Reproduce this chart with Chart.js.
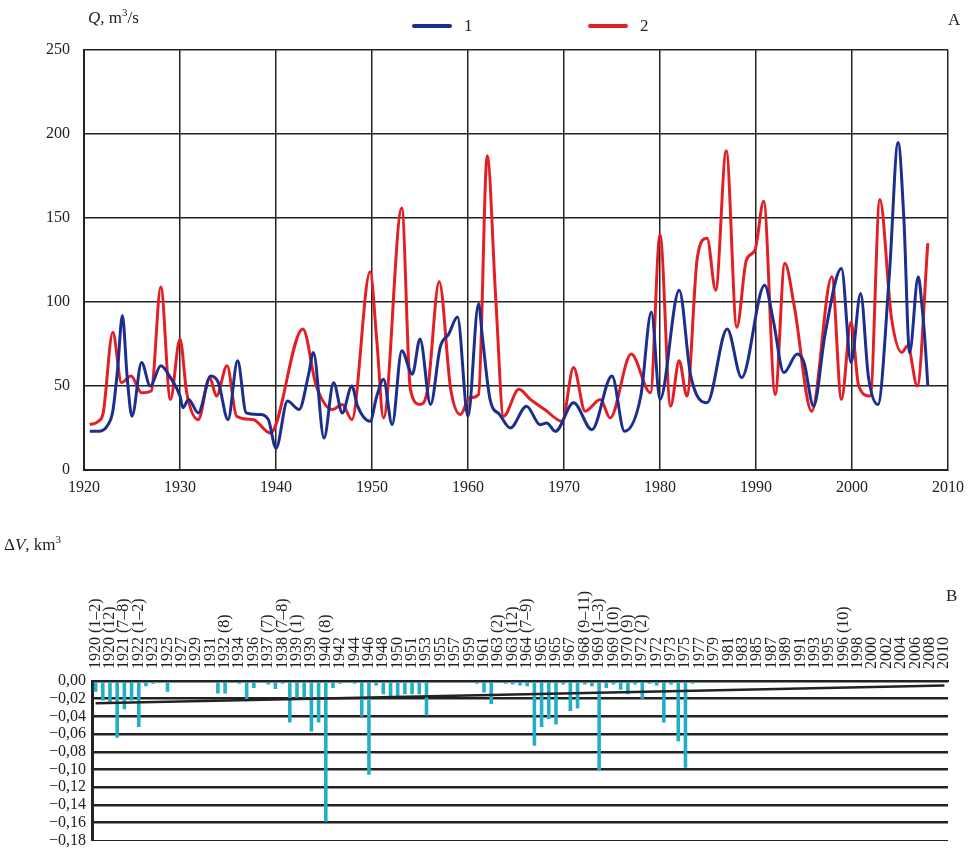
<!DOCTYPE html>
<html>
<head>
<meta charset="utf-8">
<script src="https://cdn.jsdelivr.net/npm/chart.js@4.4.0/dist/chart.umd.min.js"></script>
<style>
  body { margin: 0; background: #fff; font-family: 'Liberation Serif', 'Times New Roman', serif; color: #222; }
  #wrap { position: relative; width: 973px; height: 856px; overflow: hidden; }
  canvas { position: absolute; left: 0; }
  #topChart { top: 0; }
  #bottomChart { top: 540px; }
  .txt { position: absolute; font-size: 17px; white-space: nowrap; }
  .txt sup { font-size: 11px; }
  .legend { position: absolute; top: 16px; font-size: 17px; display: flex; align-items: center; }
  .legend span.ln { display: inline-block; width: 40px; height: 4px; border-radius: 2px; margin-right: 12px; }
</style>
</head>
<body>
<div id="wrap">
  <canvas id="topChart" width="973" height="505"></canvas>
  <canvas id="bottomChart" width="973" height="316"></canvas>
  <div class="txt" style="left:88px; top:6px;"><i>Q</i>, m<sup>3</sup>/s</div>
  <div class="legend" style="left:412px;"><span class="ln" style="background:#1c2f8e"></span>1</div>
  <div class="legend" style="left:588px;"><span class="ln" style="background:#e31e24"></span>2</div>
  <div class="txt" style="left:948px; top:10px;">A</div>
  <div class="txt" style="left:946px; top:586px;">B</div>
  <div class="txt" style="left:4px; top:533px;">&Delta;<i>V</i>, km<sup>3</sup></div>
</div>
<script>
// ---------- panel A: discharge, m3/s ----------
const years1 = [1920.6, 1921.5, 1922.5, 1923.0, 1923.5, 1924.0, 1924.5, 1925.0, 1926.0, 1926.9,
  1928.0, 1929.0, 1930.0, 1930.3, 1930.9, 1931.9, 1933.2, 1934.0, 1935.0, 1936.0,
  1936.9, 1938.3, 1939.2, 1940.0, 1941.2, 1942.4, 1943.4, 1943.9, 1945.0, 1946.0,
  1946.9, 1947.9, 1948.5, 1949.8, 1950.5, 1951.2, 1952.1, 1953.1, 1954.2, 1955.0,
  1956.1, 1957.1, 1958.0, 1958.9, 1960.0, 1961.1, 1961.5, 1962.3, 1963.3, 1964.4,
  1966.1, 1967.5, 1968.2, 1969.1, 1971.0, 1972.9, 1975.0, 1976.3, 1978.0, 1979.1,
  1980.0, 1982.0, 1983.2, 1984.9, 1987.0, 1988.5, 1990.9, 1991.8, 1992.9, 1994.3,
  1995.0, 1996.0, 1997.2, 1998.9, 1999.9, 2000.9, 2001.7, 2002.7, 2003.9, 2004.8,
  2005.4, 2006.0, 2006.9, 2007.3, 2007.6, 2007.9];
const flow1 = [23, 23, 27, 35, 60, 92, 55, 32, 64, 50,
  62, 55, 44, 37, 42, 34, 56, 52, 30, 65,
  34, 33, 30, 13, 41, 36, 57, 70, 19, 52,
  34, 50, 38, 29, 44, 54, 27, 71, 57, 78,
  39, 73, 81, 91, 32, 99, 79, 42, 33, 25,
  38, 27, 28, 23, 40, 24, 56, 23, 44, 94,
  42, 107, 56, 40, 84, 55, 110, 89, 58, 69,
  64, 38, 81, 120, 64, 105, 56, 39, 117, 195,
  150, 70, 115, 97, 77, 50];

const years2 = [1920.6, 1921.5, 1922.0, 1923.0, 1923.9, 1924.9, 1926.0, 1927.0, 1928.0, 1929.0,
  1930.0, 1930.7, 1931.9, 1933.1, 1933.8, 1934.9, 1935.9, 1937.6, 1939.4, 1942.8,
  1944.2, 1945.9, 1946.9, 1947.9, 1949.8, 1950.5, 1951.2, 1953.1, 1954.0, 1955.0,
  1955.8, 1957.0, 1958.2, 1959.2, 1960.2, 1961.1, 1962.0, 1962.9, 1963.7, 1965.3,
  1966.5, 1968.0, 1969.8, 1971.0, 1972.2, 1973.8, 1974.8, 1977.0, 1979.0, 1980.0,
  1981.1, 1982.0, 1982.8, 1983.9, 1984.9, 1985.8, 1986.9, 1988.0, 1989.0, 1989.9,
  1990.8, 1992.0, 1993.0, 1994.0, 1995.8, 1997.9, 1998.9, 1999.9, 2000.7, 2001.9,
  2002.9, 2004.1, 2005.2, 2005.8, 2006.8, 2007.9];
const flow2 = [27, 29, 34, 82, 52, 56, 46, 47, 109, 42,
  78, 46, 30, 55, 44, 62, 32, 30, 22, 84,
  50, 36, 39, 30, 118, 77, 31, 156, 48, 39,
  48, 112, 48, 33, 43, 45, 187, 101, 32, 48,
  42, 36, 29, 61, 35, 42, 31, 69, 46, 140,
  38, 65, 44, 127, 138, 107, 190, 85, 125, 131,
  160, 45, 123, 97, 35, 115, 42, 88, 50, 44,
  161, 91, 70, 74, 50, 135];

const seriesNames = ['1', '2'];

// ---------- panel B: volume change, km3 ----------
const periodLabels = ['1920 (1–2)', '1920 (12)', '1921 (7–8)', '1922 (1–2)', '1923', '1925', '1927', '1929', '1931', '1932 (8)',
  '1934', '1936', '1937 (7)', '1938 (7–8)', '1939 (1)', '1939', '1940 (8)', '1942', '1944', '1946',
  '1948', '1950', '1951', '1953', '1955', '1957', '1959', '1961', '1963 (2)', '1963 (12)',
  '1964 (7–9)', '1965', '1965', '1967', '1968 (9–11)', '1969 (1–3)', '1969 (10)', '1970 (9)', '1972 (2)', '1972',
  '1973', '1975', '1977', '1979', '1981', '1983', '1985', '1987', '1989', '1991',
  '1993', '1995', '1996 (10)', '1998', '2000', '2002', '2004', '2006', '2008', '2010'];

const volumeChange = [-0.012, -0.022, -0.025, -0.064, -0.032, -0.022, -0.052, -0.006, -0.003, -0.002,
  -0.012, -0.001, -0.002, -0.001, -0.001, -0.002, -0.001, -0.014, -0.014, -0.002,
  -0.003, -0.023, -0.008, -0.002, -0.004, -0.009, -0.003, -0.047, -0.020, -0.019,
  -0.057, -0.047, -0.159, -0.008, -0.003, -0.002, -0.003, -0.040, -0.106, -0.005,
  -0.015, -0.019, -0.018, -0.015, -0.015, -0.015, -0.039, -0.002, -0.002, -0.001,
  -0.002, -0.001, -0.002, -0.003, -0.013, -0.026, -0.002, -0.003, -0.004, -0.005,
  -0.006, -0.073, -0.052, -0.043, -0.049, -0.004, -0.034, -0.031, -0.004, -0.006,
  -0.101, -0.008, -0.004, -0.010, -0.015, -0.004, -0.020, -0.003, -0.005, -0.047,
  -0.004, -0.068, -0.098, -0.003, -0.001, 0, 0, 0, 0, 0,
  0, 0, 0, 0, 0, 0, 0, 0, 0, 0,
  0, 0, 0, -0.002, -0.002, 0, 0, 0, 0, 0,
  0, 0, 0, 0, 0, 0, 0, 0, 0];

// linear trend, start and end values
const trendEnds = [-0.025, -0.005];

Chart.defaults.font.family = "'Liberation Serif', 'Times New Roman', serif";
Chart.defaults.color = '#222';

// every other category carries a visible label
const categories = volumeChange.map((v, i) => (i % 2 === 0 ? periodLabels[i / 2] || '' : ''));
const trendData = volumeChange.map((v, i) =>
  i === 0 ? trendEnds[0] : i === volumeChange.length - 1 ? trendEnds[1] : null
);

new Chart(document.getElementById('topChart'), {
	type: 'line',
	data: {
		datasets: [
			{
				label: seriesNames[0],
				data: years1.map((x, i) => ({ x, y: flow1[i] })),
				borderColor: '#1c2f8e',
				borderWidth: 3,
				pointRadius: 0,
				cubicInterpolationMode: 'monotone',
			},
			{
				label: seriesNames[1],
				data: years2.map((x, i) => ({ x, y: flow2[i] })),
				borderColor: '#e31e24',
				borderWidth: 3,
				pointRadius: 0,
				cubicInterpolationMode: 'monotone',
			},
		],
	},
	options: {
		responsive: false,
		animation: false,
		devicePixelRatio: 1,
		layout: { padding: { top: 50, right: 25, left: 0, bottom: 0 } },
		scales: {
			x: {
				type: 'linear',
				min: 1920,
				max: 2010,
				afterFit: (s) => { s.height = 35; },
				ticks: { stepSize: 10, font: { size: 16 }, padding: 8, callback: (v) => String(v) },
				grid: { color: '#222', lineWidth: 1.5, tickLength: 0 },
				border: { color: '#222', width: 2 },
			},
			y: {
				min: 0,
				max: 250,
				afterFit: (s) => { s.width = 84; },
				ticks: { stepSize: 50, font: { size: 16 }, padding: 14 },
				grid: { color: '#222', lineWidth: 1.5, tickLength: 0 },
				border: { color: '#222', width: 2 },
			},
		},
		plugins: { legend: { display: false }, tooltip: { enabled: false } },
	},
});

new Chart(document.getElementById('bottomChart'), {
	type: 'bar',
	data: {
		labels: categories,
		datasets: [
			{
				type: 'line',
				data: trendData,
				spanGaps: true,
				borderColor: '#222',
				borderWidth: 2.5,
				pointRadius: 0,
			},
			{
				data: volumeChange,
				backgroundColor: '#22aec6',
				barPercentage: 0.5,
				categoryPercentage: 1,
			},
		],
	},
	options: {
		responsive: false,
		animation: false,
		devicePixelRatio: 1,
		layout: { padding: { top: 0, right: 25, left: 0, bottom: 6 } },
		scales: {
			x: {
				position: 'top',
				afterFit: (s) => { s.height = 141; },
				ticks: {
					autoSkip: false,
					minRotation: 90,
					maxRotation: 90,
					font: { size: 16 },
					padding: 12,
					labelOffset: 19,
				},
				grid: { display: false, drawTicks: false },
				border: { color: '#222', width: 2 },
			},
			y: {
				min: -0.18,
				max: 0,
				afterFit: (s) => { s.width = 92; },
				ticks: {
					autoSkip: false,
					stepSize: 0.02,
					font: { size: 16 },
					padding: 6,
					callback: (v) => (v < -1e-9 ? '−' : '') + Math.abs(v).toFixed(2).replace('.', ','),
				},
				grid: {
					color: '#222',
					lineWidth: (ctx) => (ctx.tick && ctx.tick.value < -0.179 ? 1 : 2.5),
					tickLength: 0,
				},
				border: { color: '#222', width: 3 },
			},
		},
		plugins: { legend: { display: false }, tooltip: { enabled: false } },
	},
});
</script>
</body>
</html>
